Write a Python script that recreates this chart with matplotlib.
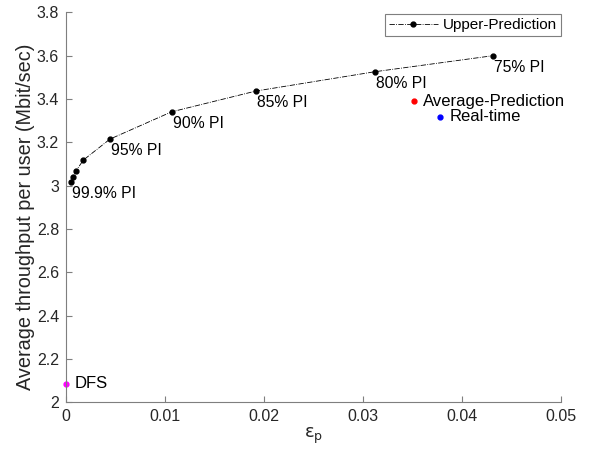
import matplotlib
matplotlib.use("Agg")
import matplotlib.pyplot as plt

plt.rcParams['font.family'] = ['Liberation Sans', 'DejaVu Sans']
plt.rcParams['mathtext.fontset'] = 'dejavusans'

# upper-prediction curve (epsilon_p vs throughput)
upper_eps = [0.00054, 0.00068, 0.00101, 0.00175, 0.00444, 0.01067, 0.01919, 0.03118, 0.0431]
upper_thr = [3.018, 3.038, 3.068, 3.118, 3.215, 3.341, 3.437, 3.526, 3.600]

# labelled PI points (index into upper arrays)
pi_labels = ['99.9% PI', '95% PI', '90% PI', '85% PI', '80% PI', '75% PI']
pi_index = [0, 4, 5, 6, 7, 8]

avg_eps, avg_thr = 0.03518, 3.390
rt_eps, rt_thr = 0.03778, 3.318
dfs_eps, dfs_thr = 0.0, 2.086

axis_grey = '#7f7f7f'
text_col = '#262626'

fig = plt.figure(figsize=(5.89, 4.51), dpi=100)
ax = fig.add_axes([0.112, 0.108, 0.8405, 0.8645])

ax.plot(upper_eps, upper_thr, color='black', linestyle='-.', linewidth=0.6,
        marker='o', markersize=3.5, label='Upper-Prediction', clip_on=False)

for lab, i in zip(pi_labels, pi_index):
    ax.text(upper_eps[i] + 0.0001, upper_thr[i] - 0.018, lab, fontsize=11.3,
            ha='left', va='top', color='black')

ax.plot(avg_eps, avg_thr, 'o', color='red', markersize=3.5, clip_on=False)
ax.text(avg_eps + 0.0009, avg_thr, 'Average-Prediction', fontsize=12,
        ha='left', va='center')
ax.plot(rt_eps, rt_thr, 'o', color='blue', markersize=3.5, clip_on=False)
ax.text(rt_eps + 0.0010, rt_thr, 'Real-time', fontsize=12,
        ha='left', va='center')
ax.plot(dfs_eps, dfs_thr, 'o', color='magenta', markersize=3.5, clip_on=False)
ax.text(dfs_eps + 0.0009, dfs_thr, 'DFS', fontsize=12,
        ha='left', va='center')

ax.set_xlim(0, 0.05)
ax.set_ylim(2, 3.8)
ax.set_xticks([0, 0.01, 0.02, 0.03, 0.04, 0.05])
ax.set_xticklabels(['0', '0.01', '0.02', '0.03', '0.04', '0.05'])
ax.set_yticks([2, 2.2, 2.4, 2.6, 2.8, 3, 3.2, 3.4, 3.6, 3.8])
ax.set_yticklabels(['2', '2.2', '2.4', '2.6', '2.8', '3', '3.2', '3.4', '3.6', '3.8'])

for s in ['top', 'right']:
    ax.spines[s].set_visible(False)
for s in ['left', 'bottom']:
    ax.spines[s].set_color(axis_grey)
    ax.spines[s].set_linewidth(0.8)
ax.tick_params(direction='in', length=4, width=0.8, color=axis_grey,
               labelsize=11.5, labelcolor=text_col, pad=5)

ax.set_xlabel(r'$\mathrm{\epsilon}_\mathrm{p}$', fontsize=13, color=text_col, labelpad=1)
ax.set_ylabel('Average throughput per user (Mbit/sec)', fontsize=14.3,
              color=text_col)
ax.yaxis.set_label_coords(-0.062, 0.475)

leg = ax.legend(loc='upper right', bbox_to_anchor=(1.0, 0.995), fontsize=11,
                handlelength=3.2, fancybox=False, framealpha=1,
                borderpad=0.25, handletextpad=0.35, borderaxespad=0)
leg.get_frame().set_edgecolor(axis_grey)
leg.get_frame().set_linewidth(0.8)

fig.savefig('out.png', dpi=100)
